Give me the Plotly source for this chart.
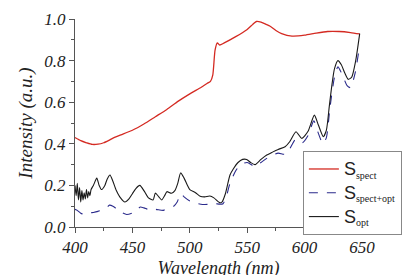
import plotly.graph_objects as go

# S_spect (red)
wl_spect = [400, 405, 410, 415, 420, 425, 430, 435, 440, 450, 460, 470, 480, 490, 500,
            510, 515, 518, 520, 522, 524, 526, 530, 540, 550, 555, 558, 562, 566, 570,
            575, 580, 589, 600, 610, 620, 630, 640, 648]
i_spect = [0.43, 0.415, 0.405, 0.397, 0.398, 0.405, 0.418, 0.432, 0.443, 0.465, 0.495,
           0.53, 0.565, 0.605, 0.64, 0.672, 0.69, 0.70, 0.73, 0.85, 0.885, 0.875, 0.885,
           0.915, 0.95, 0.975, 0.988, 0.985, 0.975, 0.965, 0.945, 0.93, 0.918, 0.922,
           0.932, 0.94, 0.94, 0.935, 0.928]

# S_spect+opt (blue dashed)
wl_so = [400, 402, 405, 408, 410, 413, 416, 420, 425, 428, 430, 433, 436, 440, 445, 450,
         454, 457, 460, 465, 470, 477, 482, 486, 489, 492, 495, 500, 505, 511, 518, 522,
         526, 529, 532, 535, 540, 544, 550, 557, 562, 567, 572, 577, 583, 587, 592, 598,
         603, 608, 612, 616, 619, 622, 626, 629, 633, 637, 640, 644, 648]
i_so = [0.085, 0.08, 0.066, 0.06, 0.062, 0.068, 0.07, 0.075, 0.085, 0.095, 0.105, 0.1,
        0.088, 0.072, 0.06, 0.068, 0.085, 0.096, 0.092, 0.082, 0.085, 0.08, 0.095, 0.1,
        0.12, 0.16, 0.145, 0.125, 0.115, 0.108, 0.11, 0.112, 0.11, 0.112, 0.15, 0.21,
        0.27, 0.3, 0.31, 0.29, 0.31, 0.33, 0.345, 0.355, 0.35, 0.375, 0.42, 0.405, 0.44,
        0.51, 0.45, 0.40, 0.43, 0.57, 0.72, 0.77, 0.73, 0.68, 0.67, 0.74, 0.875]

# S_opt (black)
wl_opt = [400, 401, 402, 403, 404, 405, 406, 407, 408, 409, 410, 411, 412, 413, 414, 416,
          419, 421, 423, 426, 428, 430.5, 433, 436, 439, 443.5, 447, 450, 453, 456.5, 460,
          464, 468, 470, 473, 475.5, 478, 480, 484, 487, 489.5, 492, 495, 498, 500, 505,
          509, 513, 517.5, 521, 526, 528, 531, 535, 538, 542, 546, 549.5, 553, 556.8, 562,
          567, 572, 577, 583, 587, 592.5, 597.5, 603, 608.5, 612, 616.3, 619, 621.5, 623.6,
          626, 629, 632, 635, 638, 641, 644.5, 648]
i_opt = [0.20, 0.15, 0.21, 0.13, 0.19, 0.12, 0.175, 0.13, 0.165, 0.135, 0.18, 0.14,
         0.17, 0.15, 0.18, 0.20, 0.235, 0.20, 0.18, 0.20, 0.23, 0.25, 0.22, 0.175, 0.145,
         0.12, 0.135, 0.16, 0.185, 0.20, 0.175, 0.14, 0.13, 0.163, 0.145, 0.13, 0.15, 0.17,
         0.162, 0.175, 0.21, 0.26, 0.235, 0.2, 0.18, 0.165, 0.148, 0.145, 0.149, 0.14,
         0.117, 0.12, 0.16, 0.25, 0.28, 0.31, 0.325, 0.325, 0.31, 0.30, 0.325, 0.346, 0.36,
         0.373, 0.386, 0.41, 0.458, 0.426, 0.46, 0.538, 0.49, 0.434, 0.466, 0.58, 0.675,
         0.76, 0.80, 0.78, 0.74, 0.71, 0.72, 0.80, 0.93]

x_ticks = [400, 450, 500, 550, 600, 650]
y_ticks = [0.0, 0.2, 0.4, 0.6, 0.8, 1.0]
y_tick_text = ["0.0", "0.2", "0.4", "0.6", "0.8", "1.0"]

serif = "Liberation Serif, Times New Roman, serif"

def lbl(sub):
    return ("<span style='font-family:Liberation Sans;font-size:18px'>S</span>"
            "<sub><span style='font-size:10px'>" + sub + "</span></sub>")

fig = go.Figure()
fig.add_trace(go.Scatter(x=wl_spect, y=i_spect, mode="lines", name=lbl("spect"),
                         line=dict(color="#d42a22", width=1.3, shape="spline", smoothing=0.6)))
fig.add_trace(go.Scatter(x=wl_so, y=i_so, mode="lines", name=lbl("spect+opt"),
                         line=dict(color="#2b2b8c", width=1.1, dash="dash", shape="spline", smoothing=0.6)))
fig.add_trace(go.Scatter(x=wl_opt, y=i_opt, mode="lines", name=lbl("opt"),
                         line=dict(color="#1a1a1a", width=1.1, shape="spline", smoothing=0.6)))

axis_common = dict(showline=True, linecolor="#555555", linewidth=1, ticks="outside",
                   ticklen=5, tickcolor="#555555", showgrid=False, zeroline=False,
                   tickfont=dict(family=serif, size=17, color="#222222", style="italic"))

fig.update_xaxes(range=[400, 650], tickvals=x_ticks, automargin=True,
                 minor=dict(ticks="outside", ticklen=3, dtick=25, tick0=400, tickcolor="#555555"),
                 title=dict(text="Wavelength (nm)", standoff=4,
                            font=dict(family=serif, size=18, color="#222222", style="italic")),
                 **axis_common)
fig.update_yaxes(range=[0, 1.0], tickvals=y_ticks, ticktext=y_tick_text, automargin=False,
                 minor=dict(ticks="outside", ticklen=3, dtick=0.1, tick0=0, tickcolor="#555555"),
                 title=dict(text="Intensity (a.u.)", standoff=6,
                            font=dict(family=serif, size=19, color="#222222", style="italic")),
                 **axis_common)

# the page body adds an 8px offset, so margins are reduced by 8 on the left/top
fig.update_layout(
    width=420, height=275,
    margin=dict(l=67, r=66, t=11, b=56, autoexpand=False),
    paper_bgcolor="white", plot_bgcolor="white",
    showlegend=True,
    legend=dict(x=0.794, y=0.365, xanchor="left", yanchor="top",
                bgcolor="white", bordercolor="#888888", borderwidth=1,
                font=dict(family=serif, size=16, color="#222222"),
                tracegroupgap=0, itemwidth=30),
)

fig.write_html("out.html")
